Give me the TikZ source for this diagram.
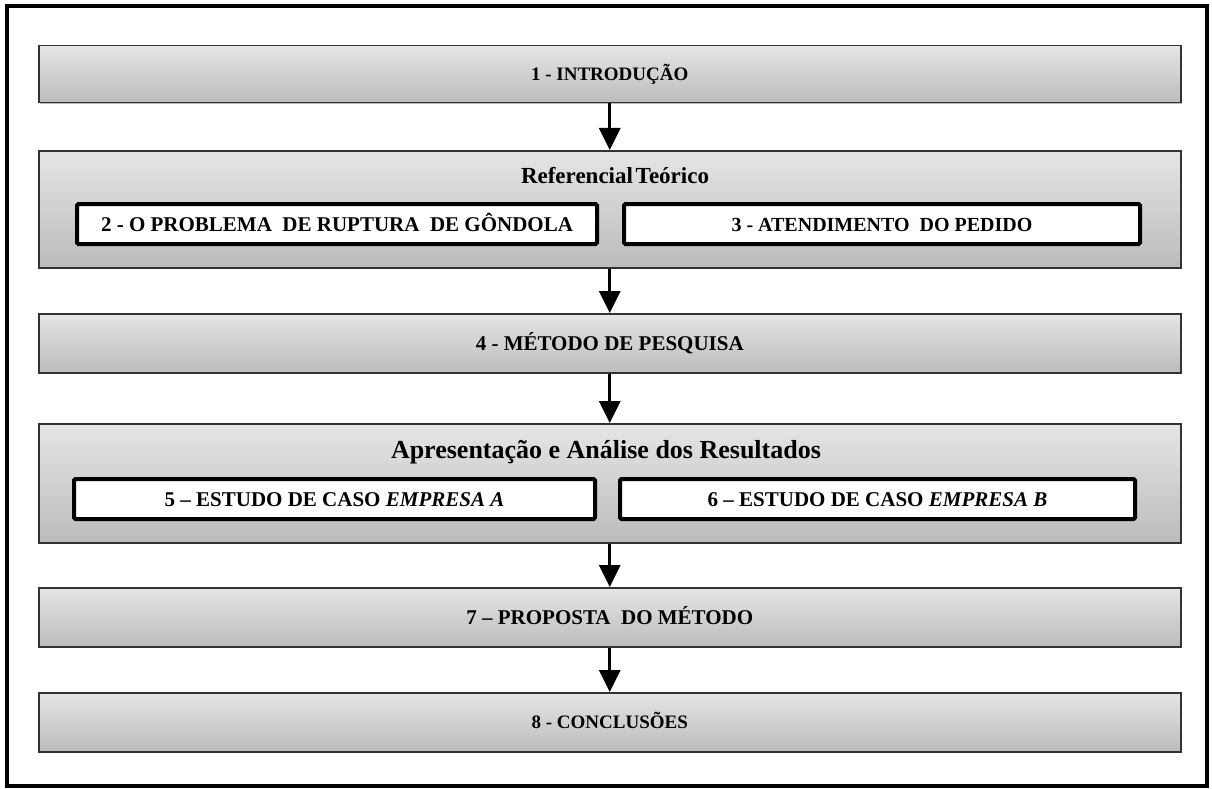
\documentclass[tikz,border=0pt]{standalone}
\usepackage{fontspec}
\setmainfont{Liberation Serif}
\usetikzlibrary{arrows.meta,shadows}
\tikzset{
  lbl/.style={font=\fontsize{21}{21}\selectfont\bfseries, text height=14pt, text depth=0pt},
  smalllbl/.style={font=\fontsize{19}{19}\selectfont\bfseries, text height=13pt, text depth=0pt},
  gbox/.style={lbl, draw=black!80, line width=1.5pt, top color=gray!20, bottom color=gray!53,
    minimum width=1142pt, inner sep=0pt, anchor=north west,
    drop shadow={shadow xshift=1.5pt, shadow yshift=-1.5pt, fill=gray!55, opacity=1}},
  wbox/.style={lbl, draw=black, line width=4pt, fill=white, rounded corners=1.5pt, inner sep=0pt,
    anchor=north west},
  ttl/.style={font=\fontsize{26}{26}\selectfont\bfseries, inner sep=0pt, text height=18pt, text depth=0pt},
  arr/.style={line width=3pt, -{Triangle[width=21pt,length=22pt]}}
}
\begin{document}
\begin{tikzpicture}[x=1pt,y=-1pt]
\useasboundingbox (0,0) rectangle (1212,789);
\fill[white] (0,0) rectangle (1212,789);
\draw[line width=4pt] (7,6) rectangle (1207,786);
% boxes
\node[gbox, smalllbl, minimum height=57pt] (b1) at (38,45) {1 - INTRODUÇÃO};
\node[gbox, minimum height=117pt] (b2) at (38,150) {};
\node[ttl, font=\fontsize{23}{23}\selectfont\bfseries] (t2) at (615,174) {Referencial\hspace{0.12em}Teórico};
\node[wbox, minimum width=520pt, minimum height=40pt] (b2a) at (75,202) {2 - O PROBLEMA \ DE RUPTURA \ DE GÔNDOLA};
\node[wbox, font=\fontsize{20}{20}\selectfont\bfseries, minimum width=516pt, minimum height=40pt] (b2b) at (622,202) {3 - ATENDIMENTO \ DO PEDIDO};
\node[gbox, minimum height=59pt] (b4) at (38,313) {4 - MÉTODO DE PESQUISA};
\node[gbox, minimum height=119pt] (b5) at (38,423) {};
\node[ttl] (t5) at (606,449) {Apresentação e Análise dos Resultados};
\node[wbox, minimum width=521pt, minimum height=40pt] (b5a) at (72,477) {5 – ESTUDO DE CASO \textit{EMPRESA A}};
\node[wbox, minimum width=515pt, minimum height=40pt] (b5b) at (618,477) {6 – ESTUDO DE CASO \textit{EMPRESA B}};
\node[gbox, minimum height=59pt] (b7) at (38,587) {7 – PROPOSTA \ DO MÉTODO};
\node[gbox, smalllbl, minimum height=59pt] (b8) at (38,692) {8 - CONCLUSÕES};
% arrows
\draw[arr] (b1) -- (b2);
\draw[arr] (b2) -- (b4);
\draw[arr] (b4) -- (b5);
\draw[arr] (b5) -- (b7);
\draw[arr] (b7) -- (b8);
\end{tikzpicture}
\end{document}
